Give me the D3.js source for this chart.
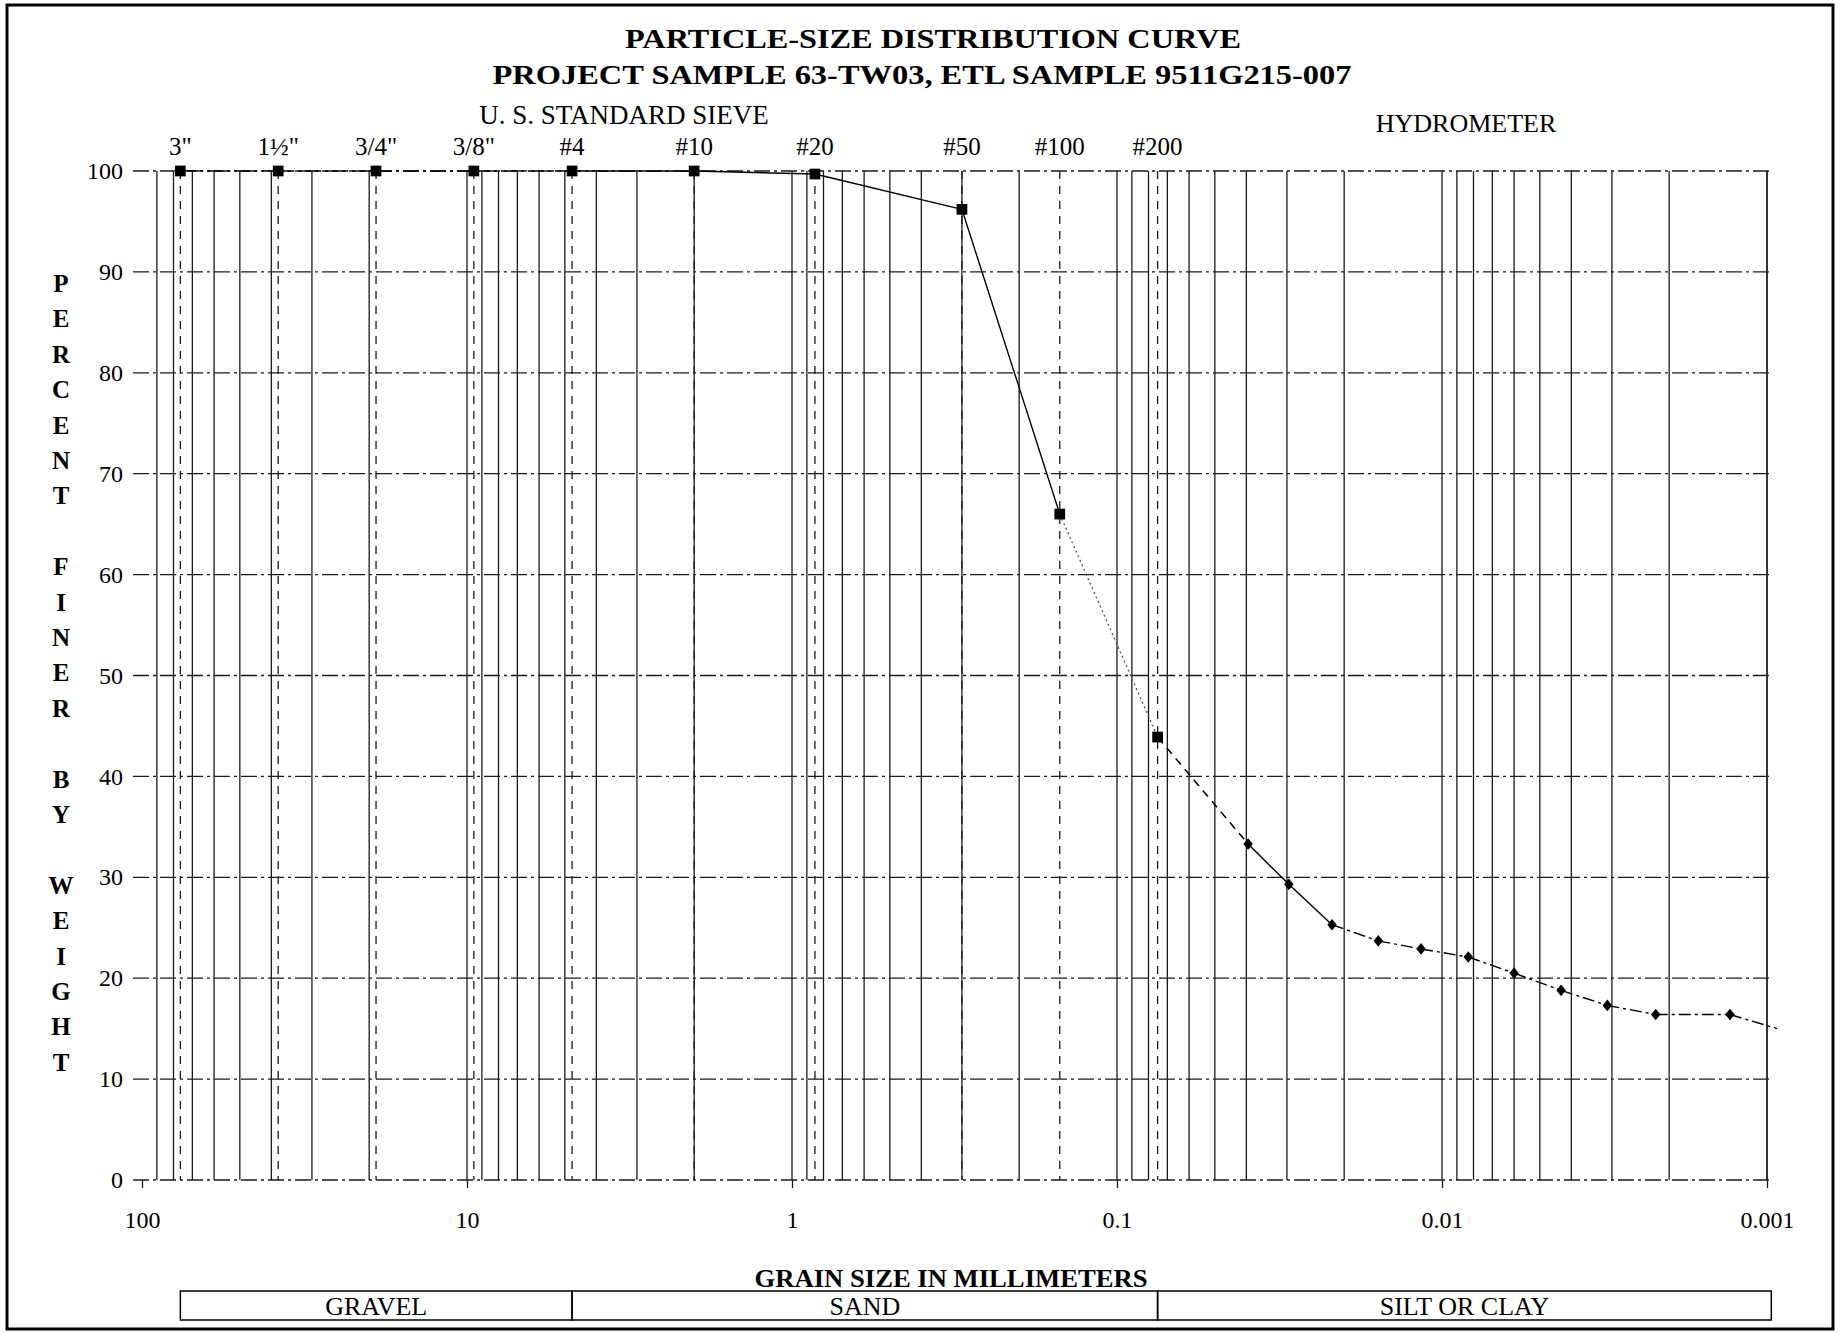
<!DOCTYPE html>
<html>
<head>
<meta charset="utf-8">
<script src="https://cdn.jsdelivr.net/npm/d3@7"></script>
<style>
body{margin:0;background:#fff}
text{font-family:"Liberation Serif","Times New Roman",serif;fill:#000}
</style>
</head>
<body>
<script>
// sieve data (mm, % finer)
const sieveLabels = ['3"', '1½"', '3/4"', '3/8"', '#4', '#10', '#20', '#50', '#100', '#200']
const sieveSizes = [76.2, 38.1, 19.05, 9.525, 4.75, 2.0, 0.85, 0.30, 0.15, 0.075]
const sievePercent = [100, 100, 100, 100, 100, 100, 99.7, 96.2, 66.0, 43.9]

// hydrometer data
const hydroSizes = [0.0395, 0.0296, 0.0218, 0.0157, 0.0116, 0.0083, 0.0060, 0.0043, 0.0031, 0.0022, 0.0013]
const hydroPercent = [33.3, 29.3, 25.3, 23.7, 22.9, 22.1, 20.5, 18.8, 17.3, 16.4, 16.4]
// the curve runs on a little past the last reading
const curveEnd = [0.00093, 15.0]

const decades = [100, 10, 1, 0.1, 0.01, 0.001]
const decadeLabels = ['100', '10', '1', '0.1', '0.01', '0.001']
const yTicks = [0, 10, 20, 30, 40, 50, 60, 70, 80, 90, 100]

const zoneNames = ['GRAVEL', 'SAND', 'SILT OR CLAY']
const zoneEdges = [76.2, 4.75, 0.075, 0.00097]

const yTitle = 'PERCENT FINER BY WEIGHT'

const W = 1841, H = 1333
const svg = d3.select('body').append('svg').attr('width', W).attr('height', H)

const x = d3.scaleLog().domain([100, 0.001]).range([142, 1767])
const y = d3.scaleLinear().domain([0, 100]).range([1180, 171])

// frame
svg.append('rect')
  .attr('x', 7).attr('y', 5).attr('width', 1826).attr('height', 1324)
  .attr('fill', 'none').attr('stroke', '#000').attr('stroke-width', 3)

// titles
svg.append('text').attr('x', 933).attr('y', 48).attr('text-anchor', 'middle')
  .attr('font-size', 28).attr('font-weight', 'bold')
  .attr('textLength', 616).attr('lengthAdjust', 'spacingAndGlyphs')
  .text('PARTICLE-SIZE DISTRIBUTION CURVE')
svg.append('text').attr('x', 922).attr('y', 84).attr('text-anchor', 'middle')
  .attr('font-size', 28).attr('font-weight', 'bold')
  .attr('textLength', 859).attr('lengthAdjust', 'spacingAndGlyphs')
  .text('PROJECT SAMPLE 63-TW03, ETL SAMPLE 9511G215-007')

svg.append('text').attr('x', 624).attr('y', 124).attr('text-anchor', 'middle')
  .attr('font-size', 27).text('U. S. STANDARD SIEVE')
svg.append('text').attr('x', 1466).attr('y', 132).attr('text-anchor', 'middle')
  .attr('font-size', 26).text('HYDROMETER')

// vertical grid: 1..9 in each decade
let vgrid = []
for (let k = 0; k < 5; k++) {
  for (let m = 1; m <= 9; m++) vgrid.push(m * decades[k + 1])
}
vgrid.push(0.001)

svg.append('g').selectAll('line').data(vgrid).join('line')
  .attr('x1', d => x(d)).attr('x2', d => x(d))
  .attr('y1', y(100)).attr('y2', y(0))
  .attr('stroke', '#1a1a1a').attr('stroke-width', 1.3)

// dashed sieve lines
svg.append('g').selectAll('line').data(sieveSizes).join('line')
  .attr('x1', d => x(d)).attr('x2', d => x(d))
  .attr('y1', y(100)).attr('y2', y(0))
  .attr('stroke', '#1a1a1a').attr('stroke-width', 1.3)
  .attr('stroke-dasharray', '8,7')

// horizontal grid, dash-dot
svg.append('g').selectAll('line').data(yTicks).join('line')
  .attr('x1', x(100) - 9).attr('x2', x(0.001) + 3)
  .attr('y1', d => y(d)).attr('y2', d => y(d))
  .attr('stroke', '#1a1a1a').attr('stroke-width', 1.3)
  .attr('stroke-dasharray', '16,4,3,4')

// axes
const xAxis = svg.append('g').attr('transform', `translate(0,${y(0)})`)
  .call(d3.axisBottom(x).tickValues(decades).tickSize(8).tickPadding(23)
    .tickFormat((d, i) => decadeLabels[i]))
xAxis.select('.domain').remove()
xAxis.selectAll('line').attr('stroke', '#1a1a1a').attr('stroke-width', 1.3)
xAxis.selectAll('text').attr('font-size', 24).attr('font-family', '"Liberation Serif",serif')

const yAxis = svg.append('g').attr('transform', `translate(${x(100)},0)`)
  .call(d3.axisLeft(y).tickValues(yTicks).tickSize(0).tickPadding(19))
yAxis.select('.domain').remove()
yAxis.selectAll('text').attr('font-size', 24).attr('font-family', '"Liberation Serif",serif')

// y title as stacked letters
svg.append('g').selectAll('text').data(yTitle.split('')).join('text')
  .attr('x', 61).attr('y', (d, i) => 292 + i * 35.4)
  .attr('text-anchor', 'middle').attr('font-size', 25).attr('font-weight', 'bold')
  .text(d => d)

// sieve labels
svg.append('g').selectAll('text').data(sieveLabels).join('text')
  .attr('x', (d, i) => x(sieveSizes[i])).attr('y', 155)
  .attr('text-anchor', 'middle').attr('font-size', 25)
  .text(d => d)

// curve
let pts = sieveSizes.map((s, i) => [s, sievePercent[i]])
  .concat(hydroSizes.map((s, i) => [s, hydroPercent[i]]))
pts.push(curveEnd)

function segStyle(i) {
  if (i < 4) return {dash: '16,4,3,4', color: '#000', w: 1.3}
  if (i < 8) return {dash: null, color: '#000', w: 1.4}
  if (i === 8) return {dash: '2,3', color: '#555', w: 1.3}
  if (i === 9) return {dash: '8,6', color: '#000', w: 1.5}
  if (i < 12) return {dash: null, color: '#000', w: 1.4}
  return {dash: '12,4,3,4', color: '#000', w: 1.4}
}
const segs = d3.pairs(pts)
svg.append('g').selectAll('line').data(segs).join('line')
  .attr('x1', d => x(d[0][0])).attr('y1', d => y(d[0][1]))
  .attr('x2', d => x(d[1][0])).attr('y2', d => y(d[1][1]))
  .attr('stroke', (d, i) => segStyle(i).color)
  .attr('stroke-width', (d, i) => segStyle(i).w)
  .attr('stroke-dasharray', (d, i) => segStyle(i).dash)

// markers
svg.append('g').selectAll('path').data(sieveSizes).join('path')
  .attr('d', d3.symbol(d3.symbolSquare, 115))
  .attr('transform', (d, i) => `translate(${x(d)},${y(sievePercent[i])})`)
  .attr('fill', '#000')

svg.append('g').selectAll('path').data(hydroSizes).join('path')
  .attr('d', d3.symbol(d3.symbolSquare, 62))
  .attr('transform', (d, i) => `translate(${x(d)},${y(hydroPercent[i])}) scale(0.85,1.05) rotate(45)`)
  .attr('fill', '#000')

// x title
svg.append('text').attr('x', 951).attr('y', 1287).attr('text-anchor', 'middle')
  .attr('font-size', 26).attr('font-weight', 'bold')
  .attr('textLength', 393).attr('lengthAdjust', 'spacingAndGlyphs')
  .text('GRAIN SIZE IN MILLIMETERS')

// soil zones
const zones = zoneNames.map((n, i) => ({name: n, a: zoneEdges[i], b: zoneEdges[i + 1]}))
const zg = svg.append('g')
zg.selectAll('rect').data(zones).join('rect')
  .attr('x', d => x(d.a)).attr('y', 1291)
  .attr('width', d => x(d.b) - x(d.a)).attr('height', 29)
  .attr('fill', 'none').attr('stroke', '#000').attr('stroke-width', 1.5)
zg.selectAll('text').data(zones).join('text')
  .attr('x', d => (x(d.a) + x(d.b)) / 2).attr('y', 1315)
  .attr('text-anchor', 'middle').attr('font-size', 26)
  .text(d => d.name)
</script>
</body>
</html>
